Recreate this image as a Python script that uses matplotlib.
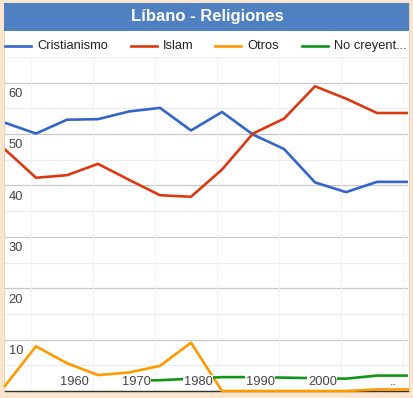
import numpy as np
import matplotlib
matplotlib.use('Agg')
import matplotlib.pyplot as plt
from matplotlib.patches import Rectangle
from matplotlib.lines import Line2D

plt.rcParams['font.family'] = ['Liberation Sans', 'DejaVu Sans']

# data, one point every 5 years
years = list(range(1950, 2020, 5))
cristianismo = [52.2, 50.1, 52.8, 52.9, 54.4, 55.1, 50.7, 54.3, 49.9, 47.1, 40.6, 38.7, 40.7, 40.7]
islam = [47.0, 41.5, 42.0, 44.2, 41.1, 38.1, 37.8, 43.1, 50.1, 53.0, 59.3, 56.9, 54.1, 54.1]
otros = [1.0, 8.7, 5.4, 3.1, 3.6, 4.9, 9.4, 0.0, 0.0, 0.0, 0.0, 0.0, 0.3, 0.3]
no_creyentes = [np.nan, np.nan, np.nan, np.nan, 2.0, 2.1, 2.4, 2.7, 2.7, 2.6, 2.5, 2.4, 3.0, 3.0]

series_names = ['Cristianismo', 'Islam', 'Otros', 'No creyent...']
series_colors = ['#3366cc', '#dc3912', '#ff9900', '#109618']
x_labels = [1960, 1970, 1980, 1990, 2000]
y_labels = [10, 20, 30, 40, 50, 60]

W, H = 414, 398
fig = plt.figure(figsize=(W / 100, H / 100), dpi=100, facecolor='#fae6cf')

# white panel + blue title band
fig.patches.append(Rectangle((4 / W, 1 - 391 / H), 405 / W, 388 / H, transform=fig.transFigure,
                             facecolor='white', edgecolor='#ecd3b4', lw=0.8, zorder=-2))
fig.patches.append(Rectangle((4 / W, 1 - 31 / H), 405 / W, 28 / H, transform=fig.transFigure,
                             facecolor='#4f81c2', edgecolor='none', zorder=-1))
fig.text(207 / W, 1 - 17 / H, 'Líbano - Religiones', color='white', fontsize=12,
         fontweight='bold', ha='center', va='center')

# legend drawn by hand in one row
leg_x = [5, 131, 215, 302]
for name, col, lx in zip(series_names, series_colors, leg_x):
    fig.lines.append(Line2D([lx / W, (lx + 26) / W], [1 - 46 / H, 1 - 46 / H],
                            transform=fig.transFigure, color=col, lw=1.9))
    fig.text((lx + 32) / W, 1 - 46 / H, name, fontsize=9.3, color='#222222', va='center')

ax = fig.add_axes([5 / W, 7 / H, 403 / W, 334 / H])
ax.set_zorder(3)
ax.set_facecolor('none')
ax.set_xlim(1950, 2015)
ax.set_ylim(0, 65)

# gridlines
for v in range(5, 70, 10):
    ax.axhline(v, color='#ececec', lw=0.8, zorder=1)
for v in range(10, 70, 10):
    ax.axhline(v, color='#c8c8c8', lw=0.9, zorder=1)
for yr in range(1954, 2015, 10):
    ax.axvline(yr + 0.2, color='#f3f3f3', lw=0.8, zorder=1)

ax.plot(years, cristianismo, color=series_colors[0], lw=1.9, zorder=3)
ax.plot(years, islam, color=series_colors[1], lw=1.9, zorder=3)
ax.plot(years, otros, color=series_colors[2], lw=1.9, zorder=3, clip_on=False)
ax.plot(years, no_creyentes, color=series_colors[3], lw=1.9, zorder=3)

# axis labels drawn inside the plot, like the original
for v in y_labels:
    ax.text(1950.6, v - 2.2, str(v), fontsize=9.3, color='#444444', ha='left', va='center')
for yr in x_labels:
    ax.text(yr + 1.2, 1.75, str(yr), fontsize=9.3, color='#444444', ha='center', va='center',
            zorder=5, bbox=dict(facecolor='white', edgecolor='none', pad=0.4))
ax.text(2012.6, 1.75, '..', fontsize=9.3, color='#444444', ha='center', va='center', zorder=5)

for s in ['top', 'left', 'right']:
    ax.spines[s].set_visible(False)
ax.spines['bottom'].set_color('#333333')
ax.spines['bottom'].set_linewidth(1.0)
ax.set_xticks([])
ax.set_yticks([])

plt.savefig('out.png', dpi=100, facecolor=fig.get_facecolor())
